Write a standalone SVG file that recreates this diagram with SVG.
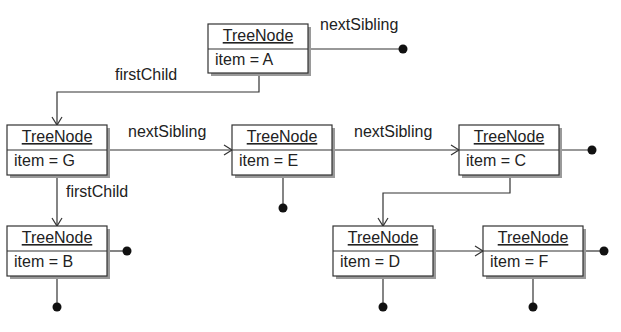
<svg xmlns="http://www.w3.org/2000/svg" width="621" height="332" viewBox="0 0 621 332">
<defs>
<style>
.box{fill:#fff;stroke:#333;stroke-width:1.2}
.sh{fill:#9a9a9a}
.div{stroke:#333;stroke-width:1.2}
.t{font-family:"Liberation Sans",Arial,sans-serif;font-size:16px;fill:#222}
.hd{text-decoration:underline;text-anchor:middle}
.ln{fill:none;stroke:#333;stroke-width:1.2}
.dot{fill:#111}
</style>
<marker id="arr" markerWidth="12" markerHeight="12" refX="10" refY="6" orient="auto" markerUnits="userSpaceOnUse">
<path d="M2,1 L10,6 L2,11" fill="none" stroke="#333" stroke-width="1.2"/>
</marker>
</defs>
<rect width="621" height="332" fill="#fff"/>
<g id="connectors">
<path class="ln" d="M308,49 H403"/>
<circle class="dot" cx="403" cy="49" r="4.5"/>
<path class="ln" d="M259,73 V92 H57 V125" marker-end="url(#arr)"/>
<path class="ln" d="M108,150 H232" marker-end="url(#arr)"/>
<path class="ln" d="M57,175 V226" marker-end="url(#arr)"/>
<path class="ln" d="M334,150 H459" marker-end="url(#arr)"/>
<path class="ln" d="M559,150 H592"/>
<circle class="dot" cx="592" cy="150" r="4.5"/>
<path class="ln" d="M283,175 V208"/>
<circle class="dot" cx="283" cy="208" r="4.5"/>
<path class="ln" d="M510,175 V193 H383 V226" marker-end="url(#arr)"/>
<path class="ln" d="M108,251 H127"/>
<circle class="dot" cx="127" cy="251" r="4.5"/>
<path class="ln" d="M57,276 V307"/>
<circle class="dot" cx="57" cy="307" r="4.5"/>
<path class="ln" d="M433,251 H483" marker-end="url(#arr)"/>
<path class="ln" d="M383,276 V307"/>
<circle class="dot" cx="383" cy="307" r="4.5"/>
<path class="ln" d="M583,251 H604"/>
<circle class="dot" cx="604" cy="251" r="4.5"/>
<path class="ln" d="M533,276 V307"/>
<circle class="dot" cx="533" cy="307" r="4.5"/>
<text class="t" x="320" y="30">nextSibling</text>
<text class="t" x="115" y="80">firstChild</text>
<text class="t" x="128" y="137">nextSibling</text>
<text class="t" x="354" y="137">nextSibling</text>
<text class="t" x="66" y="197">firstChild</text>
</g>
<g id="nodeA">
<rect class="sh" x="211" y="27" width="100" height="49"/>
<rect class="box" x="208" y="24" width="100" height="49"/>
<line class="div" x1="208" y1="49" x2="308" y2="49"/>
<text class="t hd" x="258" y="41">TreeNode</text>
<text class="t" x="215" y="65">item = A</text>
</g>
<g id="nodeG">
<rect class="sh" x="10" y="128" width="100" height="50"/>
<rect class="box" x="7" y="125" width="100" height="50"/>
<line class="div" x1="7" y1="150" x2="107" y2="150"/>
<text class="t hd" x="57" y="142">TreeNode</text>
<text class="t" x="14" y="166">item = G</text>
</g>
<g id="nodeE">
<rect class="sh" x="235" y="128" width="100" height="50"/>
<rect class="box" x="232" y="125" width="100" height="50"/>
<line class="div" x1="232" y1="150" x2="332" y2="150"/>
<text class="t hd" x="282" y="142">TreeNode</text>
<text class="t" x="239" y="166">item = E</text>
</g>
<g id="nodeC">
<rect class="sh" x="462" y="128" width="100" height="50"/>
<rect class="box" x="459" y="125" width="100" height="50"/>
<line class="div" x1="459" y1="150" x2="559" y2="150"/>
<text class="t hd" x="509" y="142">TreeNode</text>
<text class="t" x="466" y="166">item = C</text>
</g>
<g id="nodeB">
<rect class="sh" x="10" y="229" width="100" height="50"/>
<rect class="box" x="7" y="226" width="100" height="50"/>
<line class="div" x1="7" y1="251" x2="107" y2="251"/>
<text class="t hd" x="57" y="243">TreeNode</text>
<text class="t" x="14" y="267">item = B</text>
</g>
<g id="nodeD">
<rect class="sh" x="336" y="229" width="100" height="50"/>
<rect class="box" x="333" y="226" width="100" height="50"/>
<line class="div" x1="333" y1="251" x2="433" y2="251"/>
<text class="t hd" x="383" y="243">TreeNode</text>
<text class="t" x="340" y="267">item = D</text>
</g>
<g id="nodeF">
<rect class="sh" x="486" y="229" width="100" height="50"/>
<rect class="box" x="483" y="226" width="100" height="50"/>
<line class="div" x1="483" y1="251" x2="583" y2="251"/>
<text class="t hd" x="533" y="243">TreeNode</text>
<text class="t" x="490" y="267">item = F</text>
</g>
</svg>
